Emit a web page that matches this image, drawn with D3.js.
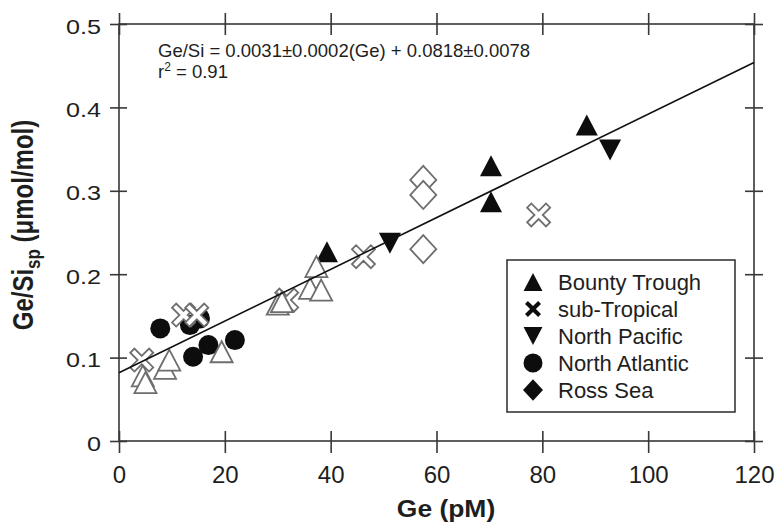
<!DOCTYPE html>
<html>
<head>
<meta charset="utf-8">
<script src="https://cdn.jsdelivr.net/npm/d3@7"></script>
<style>
  body { margin: 0; background: #fff; }
  svg { display: block; }
  text { font-family: "Liberation Sans", Arial, sans-serif; fill: #1e1e1e; }
</style>
</head>
<body>
<svg id="chart" width="777" height="524"></svg>
<script>
// data: [Ge (pM), Ge/Si (umol/mol)]
var bountyTrough = [[39.3, 0.227], [70.3, 0.330], [70.3, 0.287], [88.4, 0.379]];
var northPacific = [[51.2, 0.237], [92.8, 0.349]];
var northAtlantic = [[7.8, 0.135], [13.4, 0.139], [15.3, 0.147], [14.0, 0.101], [16.9, 0.115], [21.9, 0.121]];
var subTropical = [[4.3, 0.097], [12.2, 0.151], [14.7, 0.151], [31.7, 0.169], [46.2, 0.221], [79.3, 0.271]];
var rossSea = [[57.5, 0.313], [57.5, 0.295], [57.5, 0.230]];
var openTriangles = [[4.5, 0.078], [5.0, 0.070], [8.7, 0.087], [9.5, 0.097], [19.4, 0.107],
  [30.0, 0.164], [30.8, 0.167], [36.1, 0.183], [38.2, 0.181], [37.3, 0.209]];

var fitSlope = 0.0031, fitIntercept = 0.0818;
var xTicks = [0, 20, 40, 60, 80, 100, 120];
var yTicks = [0, 0.1, 0.2, 0.3, 0.4, 0.5];
var legendNames = ['Bounty Trough', 'sub-Tropical', 'North Pacific', 'North Atlantic', 'Ross Sea'];
var legendShapes = ['up', 'x', 'down', 'circle', 'diamond'];

var svg = d3.select('#chart');
var x = d3.scaleLinear().domain([0, 120]).range([119, 754]);
var y = d3.scaleLinear().domain([0, 0.5]).range([441, 24]);
var axisColor = '#383838';
var fontFam = '"Liberation Sans", Arial, sans-serif';

// shape paths centred on 0,0
function shapePath(kind, s) {
  if (kind === 'up') return 'M0,' + (-s) + 'L' + (s * 1.05) + ',' + s + 'L' + (-s * 1.05) + ',' + s + 'Z';
  if (kind === 'down') return 'M0,' + s + 'L' + (s * 1.05) + ',' + (-s) + 'L' + (-s * 1.05) + ',' + (-s) + 'Z';
  if (kind === 'diamond') return 'M0,' + (-s * 1.08) + 'L' + s + ',0L0,' + (s * 1.08) + 'L' + (-s) + ',0Z';
  if (kind === 'circle') return d3.symbol(d3.symbolCircle, Math.PI * s * s)();
  if (kind === 'x') {
    var c = s * 0.36, e = 2 * s - c;
    var a = (e - c) / 2, b = (e + c) / 2;
    return 'M0,' + (-c) + 'L' + a + ',' + (-b) + 'L' + b + ',' + (-a) + 'L' + c + ',0L' + b + ',' + a +
      'L' + a + ',' + b + 'L0,' + c + 'L' + (-a) + ',' + b + 'L' + (-b) + ',' + a + 'L' + (-c) + ',0L' +
      (-b) + ',' + (-a) + 'L' + (-a) + ',' + (-b) + 'Z';
  }
}

function drawSeries(data, kind, size, filled) {
  svg.append('g').selectAll('path')
    .data(data)
    .enter().append('path')
      .attr('d', shapePath(kind, size))
      .attr('transform', function(d) { return 'translate(' + x(d[0]) + ',' + y(d[1]) + ')'; })
      .attr('fill', filled ? '#0d0d0d' : '#fff')
      .attr('stroke', filled ? 'none' : '#6e6e6e')
      .attr('stroke-width', 1.8);
}

// frame
svg.append('rect')
  .attr('x', x(0)).attr('y', y(0.5))
  .attr('width', x(120) - x(0)).attr('height', y(0) - y(0.5))
  .attr('fill', 'none').attr('stroke', axisColor).attr('stroke-width', 1.6);

function styleTicks(g) {
  g.select('.domain').remove();
  g.selectAll('.tick line').attr('stroke', axisColor).attr('stroke-width', 1.6);
}

var axisB = svg.append('g').attr('transform', 'translate(0,' + y(0) + ')')
  .call(d3.axisBottom(x).tickValues(xTicks).tickSize(12).tickFormat(d3.format('d')));
styleTicks(axisB);
axisB.selectAll('.tick line').attr('y1', -10);
axisB.selectAll('.tick text').attr('y', 42).attr('dy', 0)
  .style('font-size', '24px').style('font-family', fontFam).attr('fill', '#1e1e1e');

var axisT = svg.append('g').attr('transform', 'translate(0,' + y(0.5) + ')')
  .call(d3.axisTop(x).tickValues(xTicks).tickSize(11).tickFormat(''));
styleTicks(axisT);
axisT.selectAll('.tick line').attr('y1', 11);

var axisL = svg.append('g').attr('transform', 'translate(' + x(0) + ',0)')
  .call(d3.axisLeft(y).tickValues(yTicks).tickSize(9)
    .tickFormat(function(d) { return d === 0 ? '0' : d3.format('.1f')(d); }));
styleTicks(axisL);
axisL.selectAll('.tick line').attr('x1', 8);
axisL.selectAll('.tick text')
  .attr('x', 0).attr('dy', 0).attr('text-anchor', 'end')
  .attr('transform', 'translate(-18,9) scale(1.2,1)')
  .style('font-size', '21px').style('font-family', fontFam).attr('fill', '#1e1e1e');

var axisR = svg.append('g').attr('transform', 'translate(' + x(120) + ',0)')
  .call(d3.axisRight(y).tickValues(yTicks).tickSize(9).tickFormat(''));
styleTicks(axisR);
axisR.selectAll('.tick line').attr('x1', -9);

// points
drawSeries(bountyTrough, 'up', 10.5, true);
drawSeries(northAtlantic, 'circle', 10, true);
drawSeries(northPacific, 'down', 10.5, true);
drawSeries(subTropical, 'x', 11.5, false);
drawSeries(openTriangles, 'up', 10.5, false);
drawSeries(rossSea, 'diamond', 13, false);

// regression line
svg.append('path')
  .datum([0, 120])
  .attr('d', d3.line().x(function(d) { return x(d); }).y(function(d) { return y(fitSlope * d + fitIntercept); }))
  .attr('stroke', '#111').attr('stroke-width', 1.6).attr('fill', 'none');

// equation
svg.append('text').attr('x', 158).attr('y', 56.5).style('font-size', '18.5px')
  .text('Ge/Si = ' + fitSlope.toFixed(4) + '\u00b10.0002(Ge) + ' + fitIntercept.toFixed(4) + '\u00b10.0078');
var r2 = svg.append('text').attr('x', 158).attr('y', 77.5).style('font-size', '18.5px');
r2.append('tspan').text('r');
r2.append('tspan').attr('dy', -7).style('font-size', '12px').text('2');
r2.append('tspan').attr('dy', 7).text(' = 0.91');

// legend
var legend = svg.append('g');
legend.append('rect').attr('x', 507).attr('y', 260).attr('width', 228).attr('height', 152)
  .attr('fill', '#fff').attr('stroke', axisColor).attr('stroke-width', 1.6);
var rows = legend.selectAll('g.row').data(legendNames).enter().append('g')
  .attr('transform', function(d, i) { return 'translate(533,' + (282 + i * 27) + ')'; });
rows.append('path')
  .attr('d', function(d, i) {
    var k = legendShapes[i];
    return shapePath(k, k === 'x' ? 8 : k === 'diamond' ? 10 : k === 'circle' ? 9.5 : 9);
  })
  .attr('fill', '#0d0d0d');
rows.append('text').attr('x', 25).attr('y', 7.5).style('font-size', '22px').text(function(d) { return d; });

// axis titles
svg.append('text')
  .attr('transform', 'translate(446,517) scale(1.15,1)')
  .attr('text-anchor', 'middle').style('font-size', '23px').style('font-weight', 'bold')
  .text('Ge (pM)');

var yt = svg.append('text')
  .attr('transform', 'translate(33,225) rotate(-90) scale(1,1.2)')
  .attr('text-anchor', 'middle').style('font-size', '24px').style('font-weight', 'bold');
yt.append('tspan').text('Ge/Si');
yt.append('tspan').attr('dy', 6).style('font-size', '17px').text('sp');
yt.append('tspan').attr('dy', -6).text(' (\u03bcmol/mol)');
</script>
</body>
</html>
